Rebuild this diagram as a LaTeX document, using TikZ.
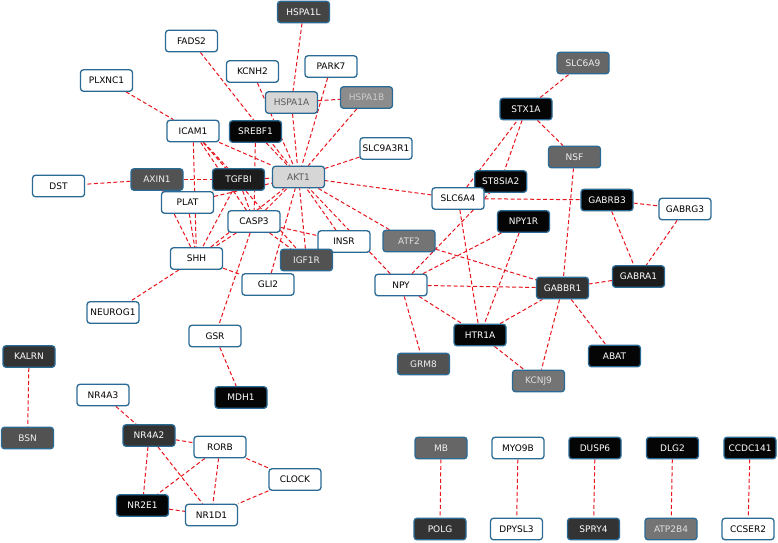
\documentclass[tikz,border=0pt]{standalone}
\usepackage{fontspec}
\setmainfont{DejaVu Sans}
\usetikzlibrary{backgrounds}
\definecolor{bord}{HTML}{2A6A94}
\definecolor{edgered}{HTML}{E8141C}
\definecolor{clight}{HTML}{D6D6D6}
\definecolor{cmid}{HTML}{8C8C8C}
\definecolor{cgray}{HTML}{747474}
\definecolor{cslate}{HTML}{666666}
\definecolor{cdgray}{HTML}{525252}
\definecolor{chsp}{HTML}{444444}
\definecolor{cdark}{HTML}{333333}
\definecolor{cdarker}{HTML}{1C1C1C}
\definecolor{cblack}{HTML}{050505}
\tikzset{
 gene/.style={rectangle, rounded corners=3pt, minimum width=52pt, minimum height=21.5pt, inner sep=0pt, draw=bord, line width=1.3pt, font=\fontsize{9}{10}\selectfont},
 gwhite/.style={gene, fill=white, text=black},
 glight/.style={gene, fill=clight, text=black!65},
 gmid/.style={gene, fill=cmid, text=black!20},
 ggray/.style={gene, fill=cgray, text=black!12},
 gslate/.style={gene, fill=cslate, text=black!6},
 gdgray/.style={gene, fill=cdgray, text=black!6},
 ghsp/.style={gene, fill=chsp, text=white},
 gdark/.style={gene, fill=cdark, text=white},
 gdarker/.style={gene, fill=cdarker, text=white},
 gblack/.style={gene, fill=cblack, text=white},
 link/.style={draw=edgered, line width=1pt, dash pattern=on 4pt off 2.5pt}
}
\begin{document}
\begin{tikzpicture}[x=1pt,y=-1pt]
\useasboundingbox (0,0) rectangle (778,542);
\begin{scope}[on background layer]
\fill[white] (0,0) rectangle (778,542);
\end{scope}
% nodes
\node[ghsp] (HSPA1L) at (303.5,12) {HSPA1L};
\node[gwhite] (FADS2) at (191.5,41) {FADS2};
\node[gwhite] (KCNH2) at (252.5,71.5) {KCNH2};
\node[gwhite] (PARK7) at (331,66.5) {PARK7};
\node[gwhite] (PLXNC1) at (106.5,80.5) {PLXNC1};
\node[glight] (HSPA1A) at (291.5,102.5) {HSPA1A};
\node[gmid] (HSPA1B) at (366.5,97.5) {HSPA1B};
\node[gwhite] (ICAM1) at (193,131) {ICAM1};
\node[gblack] (SREBF1) at (255.5,131.5) {SREBF1};
\node[gwhite] (SLC9A3R1) at (386,148.5) {SLC9A3R1};
\node[glight] (AKT1) at (298.5,177) {AKT1};
\node[gdarker] (TGFBI) at (238.5,179.5) {TGFBI};
\node[gdgray] (AXIN1) at (157,179.5) {AXIN1};
\node[gwhite] (DST) at (58.5,186) {DST};
\node[gwhite] (PLAT) at (187.5,202.5) {PLAT};
\node[gwhite] (CASP3) at (254,221.5) {CASP3};
\node[gwhite] (SHH) at (196.5,258.5) {SHH};
\node[gwhite] (NEUROG1) at (113,312.5) {NEUROG1};
\node[gwhite] (GSR) at (215,336) {GSR};
\node[gblack] (MDH1) at (241,397.5) {MDH1};
\node[gwhite] (INSR) at (344,241.5) {INSR};
\node[ggray] (ATF2) at (409,241) {ATF2};
\node[gdgray] (IGF1R) at (306.5,260) {IGF1R};
\node[gwhite] (GLI2) at (268,284.5) {GLI2};
\node[gwhite] (NPY) at (401,285) {NPY};
\node[gdgray] (GRM8) at (423.5,364) {GRM8};
\node[gslate] (SLC6A9) at (583,63) {SLC6A9};
\node[gblack] (STX1A) at (526,109) {STX1A};
\node[gslate] (NSF) at (574.5,157) {NSF};
\node[gblack] (ST8SIA2) at (500.7,181.5) {ST8SIA2};
\node[gwhite] (SLC6A4) at (458,198.5) {SLC6A4};
\node[gblack] (GABRB3) at (607,200) {GABRB3};
\node[gwhite] (GABRG3) at (685,209) {GABRG3};
\node[gblack] (NPY1R) at (523.5,221.5) {NPY1R};
\node[gdark] (GABBR1) at (562.5,288) {GABBR1};
\node[gdarker] (GABRA1) at (638.5,276.5) {GABRA1};
\node[gblack] (HTR1A) at (480,335) {HTR1A};
\node[gblack] (ABAT) at (614.5,356) {ABAT};
\node[ggray] (KCNJ9) at (538.5,381) {KCNJ9};
\node[gdark] (KALRN) at (29,356.5) {KALRN};
\node[gdgray] (BSN) at (27.5,438) {BSN};
\node[gwhite] (NR4A3) at (103,395) {NR4A3};
\node[gdark] (NR4A2) at (149,435.5) {NR4A2};
\node[gwhite] (RORB) at (220,447) {RORB};
\node[gwhite] (CLOCK) at (295,479.5) {CLOCK};
\node[gblack] (NR2E1) at (142.5,505.5) {NR2E1};
\node[gwhite] (NR1D1) at (211.5,515) {NR1D1};
\node[gslate] (MB) at (441,448) {MB};
\node[gwhite] (MYO9B) at (518,448) {MYO9B};
\node[gblack] (DUSP6) at (595,448) {DUSP6};
\node[gblack] (DLG2) at (672.5,448) {DLG2};
\node[gblack] (CCDC141) at (750,448) {CCDC141};
\node[gdark] (POLG) at (440,529) {POLG};
\node[gwhite] (DPYSL3) at (516.5,529) {DPYSL3};
\node[gdark] (SPRY4) at (593.5,529) {SPRY4};
\node[ggray] (ATP2B4) at (671,529) {ATP2B4};
\node[gwhite] (CCSER2) at (748,529) {CCSER2};
% edges
\begin{scope}[on background layer]
\foreach \a/\b in {HSPA1L/HSPA1A, HSPA1A/HSPA1B, HSPA1A/AKT1, HSPA1B/AKT1, PARK7/AKT1,
  KCNH2/AKT1, FADS2/AKT1, SREBF1/AKT1, ICAM1/AKT1, TGFBI/AKT1, PLAT/AKT1, CASP3/AKT1,
  SHH/AKT1, GLI2/AKT1, IGF1R/AKT1, INSR/AKT1, NPY/AKT1, ATF2/AKT1, SLC6A4/AKT1, SLC9A3R1/AKT1,
  PLXNC1/ICAM1, ICAM1/TGFBI, ICAM1/CASP3, ICAM1/SHH, ICAM1/IGF1R, AXIN1/DST, AXIN1/TGFBI,
  AXIN1/SHH, TGFBI/PLAT, TGFBI/SHH, TGFBI/CASP3, SREBF1/CASP3, CASP3/SHH, CASP3/GSR,
  CASP3/INSR, CASP3/IGF1R, SHH/GLI2, SHH/NEUROG1, PLAT/SHH, GSR/MDH1, NPY/NPY1R,
  NPY/ST8SIA2, NPY/GABBR1, NPY/HTR1A, NPY/GRM8, ATF2/GABBR1, SLC6A4/STX1A, SLC6A4/GABRB3,
  SLC6A4/HTR1A, STX1A/ST8SIA2, STX1A/SLC6A9, STX1A/NSF, NSF/GABBR1, GABRB3/GABRG3,
  GABRB3/GABRA1, GABRG3/GABRA1, GABRA1/GABBR1, NPY1R/HTR1A, HTR1A/GABBR1, HTR1A/KCNJ9,
  GABBR1/KCNJ9, GABBR1/ABAT, KALRN/BSN, NR4A3/NR4A2, NR4A2/RORB, NR4A2/NR2E1, NR4A2/NR1D1,
  RORB/NR2E1, RORB/NR1D1, RORB/CLOCK, CLOCK/NR1D1, NR2E1/NR1D1, MB/POLG, MYO9B/DPYSL3,
  DUSP6/SPRY4, DLG2/ATP2B4, CCDC141/CCSER2}
  \draw[link] (\a) -- (\b);
\end{scope}
\end{tikzpicture}
\end{document}
